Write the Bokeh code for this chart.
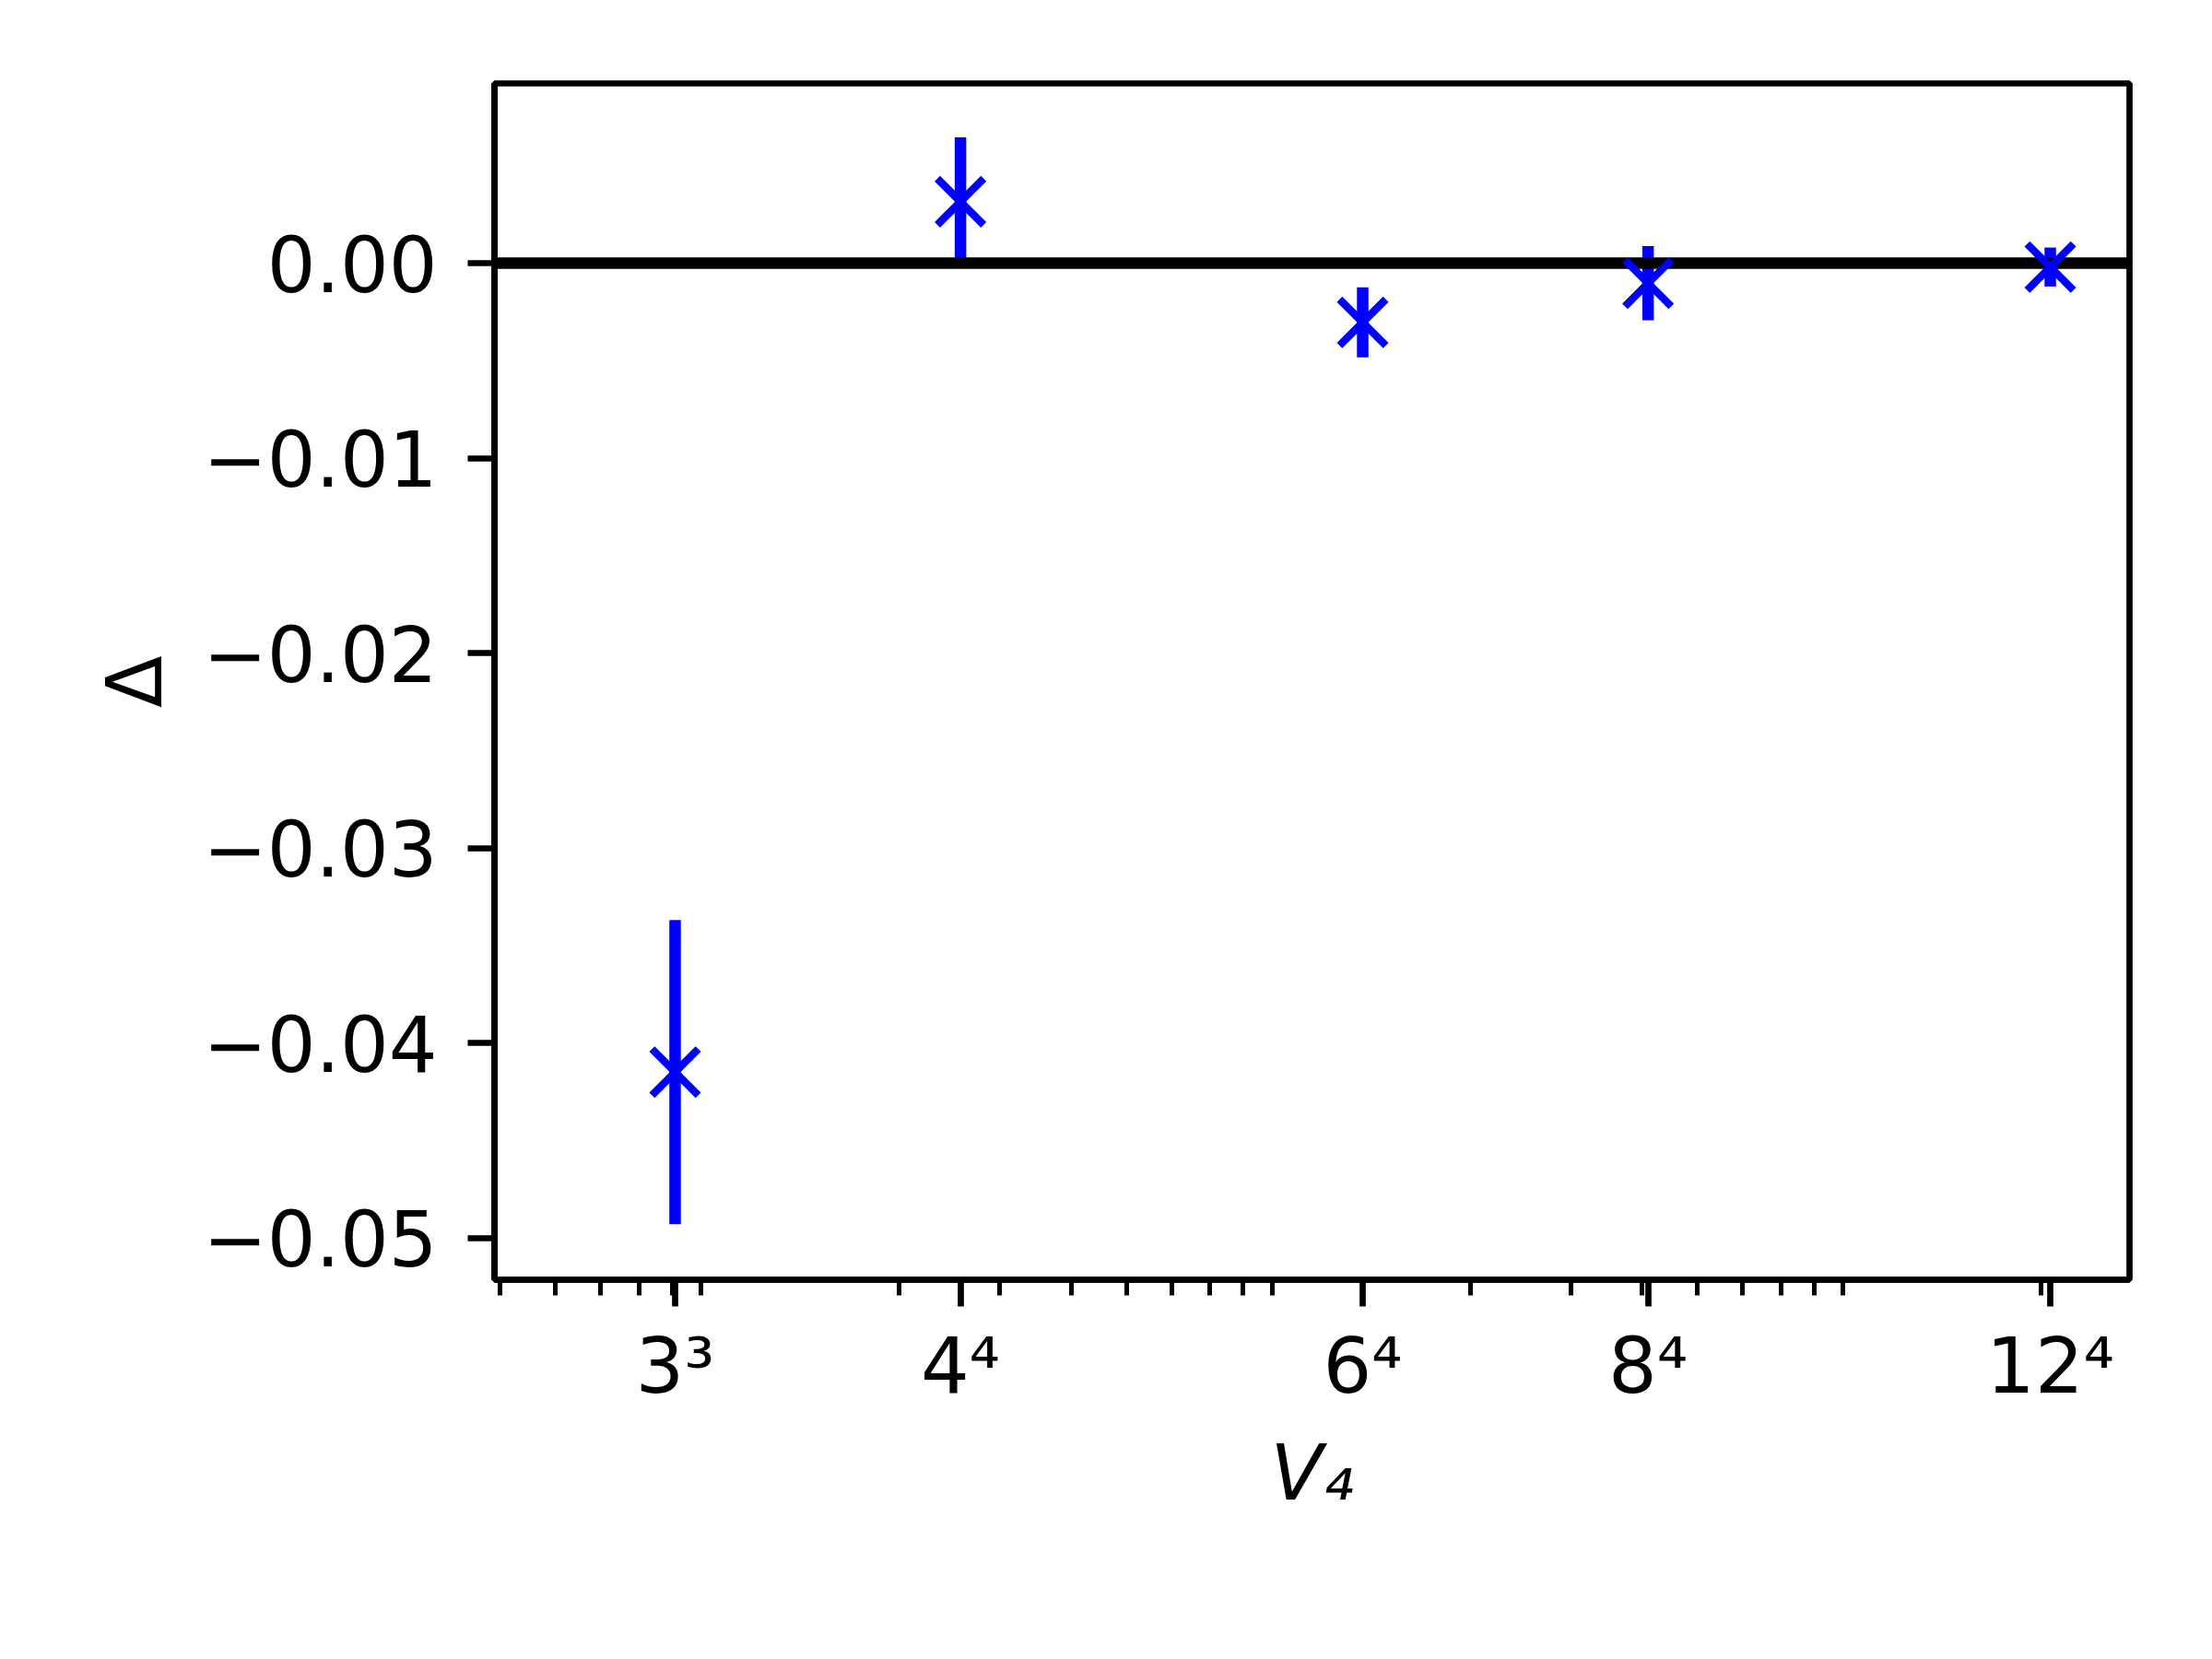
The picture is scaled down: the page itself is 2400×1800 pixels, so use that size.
import numpy as np
from bokeh.plotting import figure
from bokeh.models import Range1d, FixedTicker
from bokeh.embed import file_html
from bokeh.resources import INLINE

# ---- data ----
volumes = [81, 256, 1296, 4096, 20736]
delta = [-0.0415, 0.00315, -0.00304, -0.00103, -0.0002]
delta_err = [0.0078, 0.0033, 0.0018, 0.0019, 0.0010]

xtick_values = [81, 256, 1296, 4096, 20736]
xtick_labels = ["3³", "4⁴", "6⁴", "8⁴", "12⁴"]
xminor_values = [40, 50, 60, 70, 80, 90,
                 200, 300, 400, 500, 600, 700, 800, 900,
                 2000, 3000, 4000, 5000, 6000, 7000, 8000, 9000,
                 20000]
ytick_values = [-0.05, -0.04, -0.03, -0.02, -0.01, 0.0]
ytick_labels = ["−0.05", "−0.04", "−0.03", "−0.02", "−0.01", "0.00"]

FONT = "DejaVu Sans"
LW = 6.7

p = figure(width=2384, height=1784, x_axis_type="log",
           x_range=Range1d(39.1, 28540), y_range=Range1d(-0.05215, 0.00922),
           output_backend="svg", toolbar_location=None,
           min_border_left=536, min_border_right=74,
           min_border_top=90, min_border_bottom=396,
           background_fill_color="white", border_fill_color="white")
p.grid.visible = False
p.outline_line_color = "black"
p.outline_line_width = LW

lower = np.array(delta) - np.array(delta_err)
upper = np.array(delta) + np.array(delta_err)

# error bars, then zero line, then markers
p.segment(x0=volumes, y0=lower, x1=volumes, y1=upper,
          line_color="#0000ff", line_width=12.5)
p.hspan(y=[0.0], line_color="black", line_width=12.5)
p.scatter(x=volumes, y=delta, marker="x", size=71,
          line_color="#0000ff", line_width=8.3)

# x axis
xa = p.xaxis[0]
xa.ticker = FixedTicker(ticks=xtick_values, minor_ticks=xminor_values)
xa.major_label_overrides = {v: l for v, l in zip(xtick_values, xtick_labels)}
xa.axis_label = "V₄"
xa.axis_label_text_font_style = "italic"

# y axis
ya = p.yaxis[0]
ya.ticker = FixedTicker(ticks=ytick_values, minor_ticks=[])
ya.major_label_overrides = {v: l for v, l in zip(ytick_values, ytick_labels)}
ya.axis_label = "Δ"
ya.axis_label_text_font_style = "normal"

for ax in (xa, ya):
    ax.axis_line_color = "black"
    ax.axis_line_width = LW
    ax.major_tick_line_color = "black"
    ax.major_tick_line_width = LW
    ax.major_tick_out = 29
    ax.major_tick_in = 0
    ax.minor_tick_line_color = "black"
    ax.minor_tick_line_width = 5
    ax.minor_tick_out = 17
    ax.minor_tick_in = 0
    ax.major_label_text_font = FONT
    ax.major_label_text_font_size = "83px"
    ax.major_label_text_color = "black"
    ax.axis_label_text_font = FONT
    ax.axis_label_text_font_size = "83px"
    ax.axis_label_text_color = "black"

xa.major_label_standoff = 16
xa.axis_label_standoff = 16
ya.major_label_standoff = 33
ya.axis_label_standoff = 22

open("out.html", "w").write(file_html(p, INLINE))
